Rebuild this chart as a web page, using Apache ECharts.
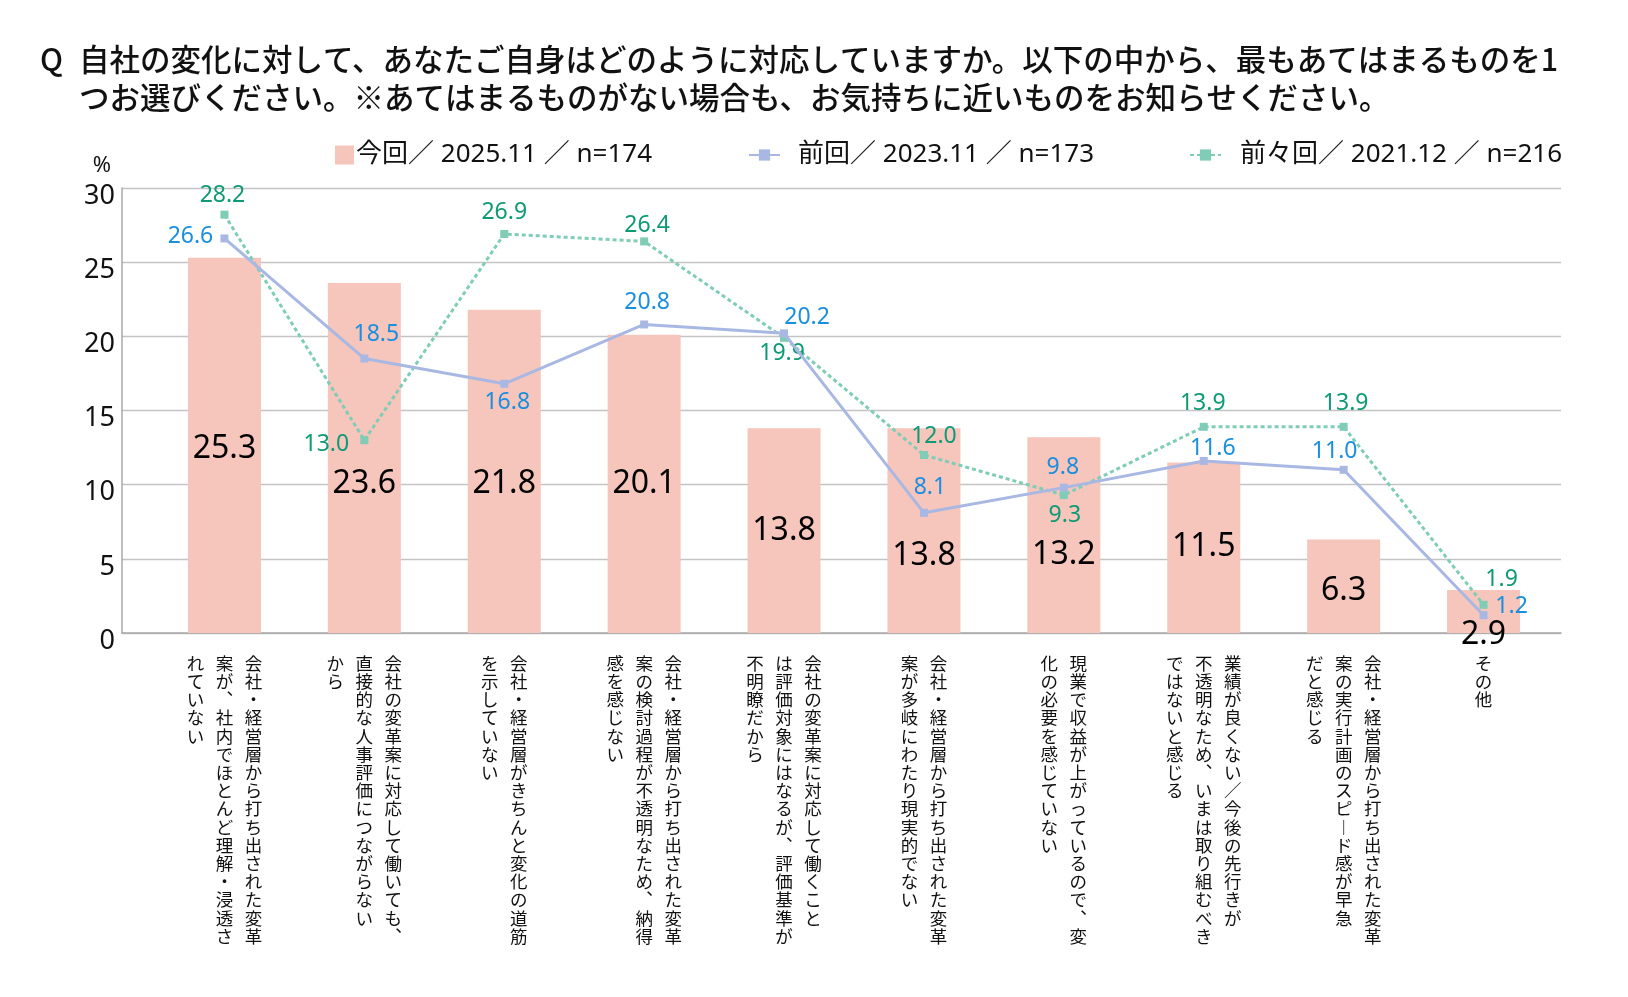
<!DOCTYPE html>
<html>
<head>
<meta charset="utf-8">
<script src="https://cdn.jsdelivr.net/npm/echarts@6/dist/echarts.min.js"></script>
<style>
  html, body { margin: 0; padding: 0; background: #fff; }
  #box { width: 1628px; height: 997px; }
</style>
</head>
<body>
<div id="box"></div>
<script>
// columns of the vertical labels are separated by \n (right column first)
const categories = [
  '会社・経営層から打ち出された変革\n案が、社内でほとんど理解・浸透さ\nれていない',
  '会社の変革案に対応して働いても、\n直接的な人事評価につながらない\nから',
  '会社・経営層がきちんと変化の道筋\nを示していない',
  '会社・経営層から打ち出された変革\n案の検討過程が不透明なため、納得\n感を感じない',
  '会社の変革案に対応して働くこと\nは評価対象にはなるが、評価基準が\n不明瞭だから',
  '会社・経営層から打ち出された変革\n案が多岐にわたり現実的でない',
  '現業で収益が上がっているので、変\n化の必要を感じていない',
  '業績が良くない／今後の先行きが\n不透明なため、いまは取り組むべき\nではないと感じる',
  '会社・経営層から打ち出された変革\n案の実行計画のスピード感が早急\nだと感じる',
  'その他'
];
const seriesNames = ['今回／ 2025.11 ／ n=174', '前回／ 2023.11 ／ n=173', '前々回／ 2021.12 ／ n=216'];
const current = [25.3, 23.6, 21.8, 20.1, 13.8, 13.8, 13.2, 11.5, 6.3, 2.9];
const previous = [26.6, 18.5, 16.8, 20.8, 20.2, 8.1, 9.8, 11.6, 11.0, 1.2];
const beforePrevious = [28.2, 13.0, 26.9, 26.4, 19.9, 12.0, 9.3, 13.9, 13.9, 1.9];
const yMin = 0, yMax = 30, yStep = 5;

// label nudges (px) so the numbers sit where the original put them
const barLabelDy = [4, 26, 13, 0, 0, 25, 20, -1, 5, 23];
const prevLabelOff = [[-34, -2], [12, -24], [3, 19], [3, -22], [23, -16], [6, -25], [-1, -20], [9, -12], [-9, -18], [28, -9]];
const bprevLabelOff = [[-2, -19], [-38, 4], [0, -22], [3, -16], [-2, 16], [10, -19], [1, 20], [-1, -23], [2, -23], [18, -25]];

const FONT = '"Noto Sans", "Noto Sans CJK JP", sans-serif';
const JP = '"Noto Sans CJK JP", sans-serif';
const VERT = { '、': '︑', 'ー': '︱' };

// turn "col1\ncol2" into rows of rich tokens, columns read right to left
function verticalLabel(text) {
  const cols = text.split('\n').map(s => Array.from(s).map(c => VERT[c] || c));
  const rows = Math.max(...cols.map(c => c.length));
  const lines = [];
  for (let r = 0; r < rows; r++) {
    let line = '';
    for (let k = cols.length - 1; k >= 0; k--) {
      line += '{c|' + (cols[k][r] || '　') + '}';
    }
    lines.push(line);
  }
  return lines.join('\n');
}

const chart = echarts.init(document.getElementById('box'));

const titleStyle = { fontFamily: JP, fontSize: 30.5, fontWeight: 500, color: '#111', lineHeight: 38.5 };
const legendText = { fontFamily: FONT, fontSize: 26, color: '#111', lineHeight: 28 };

const option = {
  animation: false,
  backgroundColor: '#fff',
  title: [
    { text: 'Q', left: 40, top: 40, padding: 0, textStyle: titleStyle },
    {
      text: '自社の変化に対して、あなたご自身はどのように対応していますか。以下の中から、最もあてはまるものを1\nつお選びください。※あてはまるものがない場合も、お気持ちに近いものをお知らせください。',
      left: 79, top: 40, padding: 0, textStyle: titleStyle
    }
  ],
  legend: [
    {
      data: [seriesNames[0]], left: 335, top: 141, padding: 0,
      icon: 'rect', itemWidth: 19, itemHeight: 19,
      textStyle: Object.assign({}, legendText, { padding: [0, 0, 0, -3] })
    },
    {
      data: [seriesNames[1]], left: 748, top: 141, padding: 0,
      itemWidth: 31, itemHeight: 14,
      textStyle: Object.assign({}, legendText, { padding: [0, 0, 0, 13] })
    },
    {
      data: [seriesNames[2]], left: 1189, top: 141, padding: 0,
      itemWidth: 31, itemHeight: 14,
      textStyle: Object.assign({}, legendText, { padding: [0, 0, 0, 14] })
    }
  ],
  grid: [
    // data area (categories)
    { left: 154.5, right: 74.5, top: 188, bottom: 364 },
    // frame area with axis, ticks and gridlines
    { left: 122, right: 67, top: 188, bottom: 364 }
  ],
  xAxis: [
    {
      gridIndex: 0, type: 'category', data: categories,
      axisLine: { show: false }, axisTick: { show: false },
      axisLabel: {
        interval: 0, margin: 21,
        formatter: v => verticalLabel(v),
        rich: {
          c: { width: 29, align: 'center', fontFamily: JP, fontSize: 17.5, lineHeight: 18.2, color: '#111' }
        }
      }
    },
    {
      gridIndex: 1, type: 'value', min: 0, max: 1,
      axisLine: { show: true, onZero: false, lineStyle: { color: '#a8a8a8', width: 1.5 } },
      axisTick: { show: false }, axisLabel: { show: false }, splitLine: { show: false }
    }
  ],
  yAxis: [
    { gridIndex: 0, type: 'value', min: yMin, max: yMax, interval: yStep, show: false },
    {
      gridIndex: 1, type: 'value', min: yMin, max: yMax, interval: yStep,
      name: '%', nameLocation: 'end', nameGap: 11,
      nameTextStyle: { fontFamily: FONT, fontSize: 22, color: '#111', align: 'right', padding: [0, 11, 0, 0] },
      axisLine: { show: true, lineStyle: { color: '#a8a8a8', width: 1.5 } },
      axisTick: { show: false },
      axisLabel: {
        fontFamily: FONT, fontSize: 27, color: '#111', margin: 7,
        verticalAlign: 'top', lineHeight: 16
      },
      splitLine: { lineStyle: { color: '#c4c4c4', width: 1.3 } }
    }
  ],
  series: [
    {
      name: seriesNames[0], type: 'bar', xAxisIndex: 0, yAxisIndex: 0,
      barWidth: 73,
      itemStyle: { color: '#f6c5bb' },
      label: {
        show: true, position: 'inside', fontFamily: FONT, fontSize: 32, color: '#000',
        formatter: p => p.value.toFixed(1)
      },
      data: current.map((v, i) => ({ value: v, label: { offset: [0, barLabelDy[i]] } })),
      z: 2
    },
    {
      name: seriesNames[2], type: 'line', xAxisIndex: 0, yAxisIndex: 0,
      symbol: 'rect', symbolSize: 8,
      lineStyle: { color: '#7fcdb6', width: 3, type: [4, 3] },
      itemStyle: { color: '#7fcdb6' },
      label: {
        show: true, position: 'inside', fontFamily: FONT, fontSize: 23, color: '#0f9a76',
        formatter: p => p.value.toFixed(1)
      },
      data: beforePrevious.map((v, i) => ({ value: v, label: { offset: bprevLabelOff[i] } })),
      z: 3
    },
    {
      name: seriesNames[1], type: 'line', xAxisIndex: 0, yAxisIndex: 0,
      symbol: 'rect', symbolSize: 8,
      lineStyle: { color: '#a9b8e3', width: 3 },
      itemStyle: { color: '#a9b8e3' },
      label: {
        show: true, position: 'inside', fontFamily: FONT, fontSize: 23, color: '#1a8fe0',
        formatter: p => p.value.toFixed(1)
      },
      data: previous.map((v, i) => ({ value: v, label: { offset: prevLabelOff[i] } })),
      z: 4
    }
  ]
};

chart.setOption(option);
</script>
</body>
</html>
